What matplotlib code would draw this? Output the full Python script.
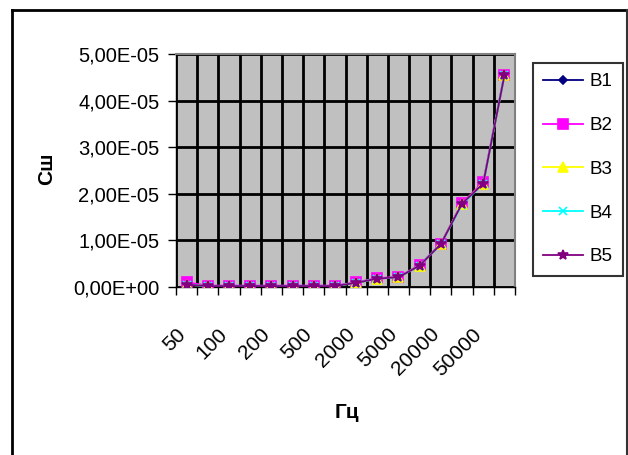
import matplotlib
matplotlib.use("Agg")
import matplotlib.pyplot as plt
import matplotlib.transforms as mtransforms
from matplotlib.lines import Line2D
from matplotlib.ticker import FuncFormatter

plt.rcParams['font.family'] = ['Liberation Sans', 'DejaVu Sans']

# -----------------------------
# Data (x 1e-5)
# -----------------------------
freq = ["50", "70", "100", "150", "200", "300", "500", "1000",
        "2000", "3000", "5000", "10000", "20000", "30000", "50000", "100000"]

b1 = [0.05, 0.02, 0.02, 0.02, 0.02, 0.02, 0.02, 0.02, 0.09, 0.18, 0.21, 0.46, 0.92, 1.79, 2.22, 4.54]
b2 = [0.10, 0.03, 0.03, 0.03, 0.03, 0.03, 0.03, 0.03, 0.10, 0.19, 0.22, 0.47, 0.93, 1.80, 2.25, 4.56]
b3 = [0.05, 0.02, 0.02, 0.02, 0.02, 0.02, 0.02, 0.02, 0.09, 0.18, 0.21, 0.46, 0.92, 1.79, 2.22, 4.54]
b4 = [0.05, 0.02, 0.02, 0.02, 0.02, 0.02, 0.02, 0.02, 0.09, 0.18, 0.21, 0.46, 0.92, 1.77, 2.22, 4.55]
b5 = [0.05, 0.02, 0.02, 0.02, 0.02, 0.02, 0.02, 0.02, 0.09, 0.18, 0.21, 0.46, 0.92, 1.79, 2.22, 4.54]

series = [("B1", b1), ("B2", b2), ("B3", b3), ("B4", b4), ("B5", b5)]
colors = ["#000080", "#FF00FF", "#FFFF00", "#00FFFF", "#800080"]
markers = ["D", "s", "^", "x", "*"]
msizes = [4.5, 7, 6.5, 6, 7]

# -----------------------------
# Figure
# -----------------------------
W, H = 628, 455
fig = plt.figure(figsize=(W / 100, H / 100), dpi=100)
fig.patch.set_facecolor("white")

ax = fig.add_axes([176 / W, 1 - 287 / H, (515 - 176) / W, (287 - 54) / H])
ax.set_facecolor("#C0C0C0")

x = list(range(len(freq)))
for (name, vals), c, m, ms in zip(series, colors, markers, msizes):
    ax.plot(x, [v * 1e-5 for v in vals], color=c, marker=m, markersize=ms,
            linewidth=1.3, label=name, markeredgecolor=c, markeredgewidth=1.2,
            zorder=3)

ax.set_xlim(-0.5, len(freq) - 0.5)
ax.set_ylim(0, 5e-5)

# category boundaries as major ticks + grid
ax.set_xticks([i - 0.5 for i in range(len(freq) + 1)])
ax.set_xticklabels([])
ax.tick_params(axis="x", which="major", direction="out", length=6, width=1, color="black")
# labels at every other category centre
ax.set_xticks(x[::2], minor=True)
ax.set_xticklabels(freq[::2], minor=True, rotation=45, ha="right",
                   rotation_mode="anchor", fontsize=15)
ax.tick_params(axis="x", which="minor", length=0, pad=27)
offset = mtransforms.ScaledTranslation(-11 / 100, 0, fig.dpi_scale_trans)
for lbl in ax.xaxis.get_minorticklabels():
    lbl.set_transform(lbl.get_transform() + offset)

ax.set_yticks([i * 1e-5 for i in range(6)])
ax.yaxis.set_major_formatter(FuncFormatter(
    lambda v, p: ("%.2E" % v).replace(".", ",")))
ax.tick_params(axis="y", direction="out", length=6, width=1, labelsize=14.5, pad=6)

ax.grid(True, which="major", color="black", linewidth=2)
ax.set_axisbelow(True)

for s in ["top", "right"]:
    ax.spines[s].set_color("#808080")
    ax.spines[s].set_linewidth(1.5)
for s in ["left", "bottom"]:
    ax.spines[s].set_color("black")
    ax.spines[s].set_linewidth(1)

fig.text(47 / W, 1 - 169 / H, "Cш", rotation=90, fontsize=15,
         fontweight="bold", ha="center", va="center")
fig.text(347 / W, 1 - 413 / H, "Гц", fontsize=15, fontweight="bold",
         ha="center", va="center")

leg = fig.legend(loc="upper left", bbox_to_anchor=(533 / W, 1 - 63 / H),
                 bbox_transform=fig.transFigure, fontsize=13.5, frameon=True,
                 fancybox=False, edgecolor="black", handlelength=2.1,
                 labelspacing=1.42, borderpad=0.55, handletextpad=0.35,
                 borderaxespad=0)
leg.get_frame().set_linewidth(1.5)

# outer chart frame
fig.add_artist(Line2D([12 / W, 12 / W], [0, 1 - 10 / H], color="black",
                      linewidth=2, transform=fig.transFigure))
fig.add_artist(Line2D([12 / W, 627 / W], [1 - 10 / H, 1 - 10 / H], color="black",
                      linewidth=2, transform=fig.transFigure))
fig.add_artist(Line2D([626.5 / W, 626.5 / W], [0, 1 - 10 / H], color="#333333",
                      linewidth=1.5, transform=fig.transFigure))

fig.savefig("out.png", dpi=100)
